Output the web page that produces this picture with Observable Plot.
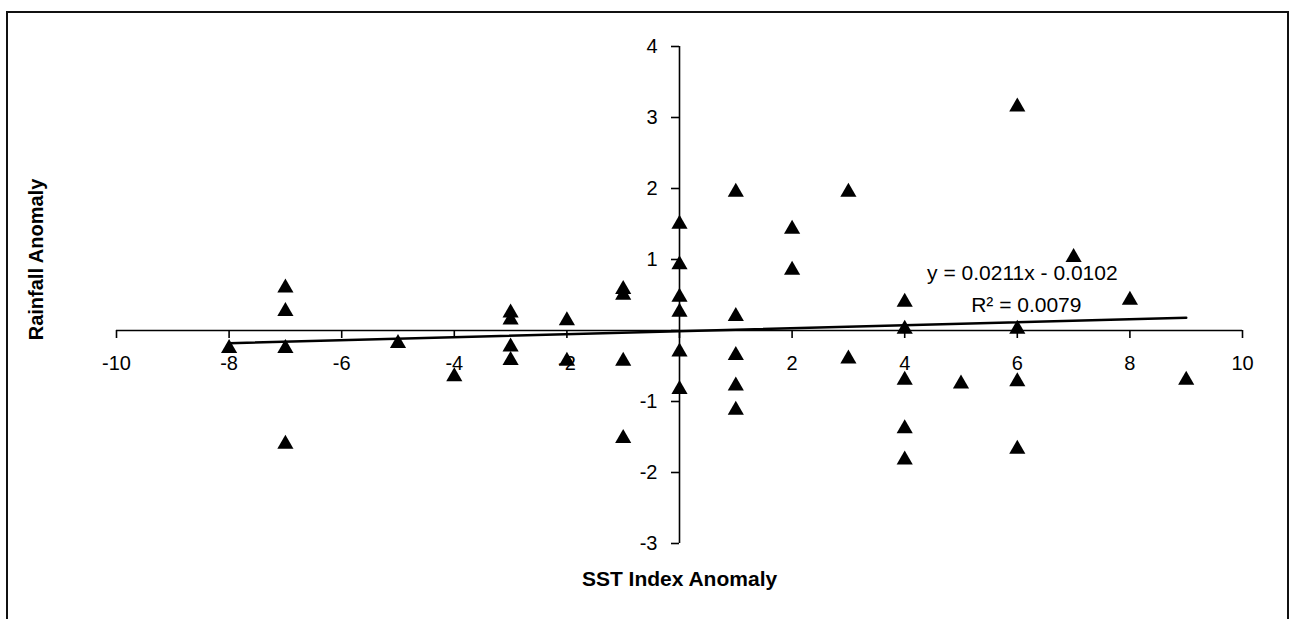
<!DOCTYPE html>
<html>
<head>
<meta charset="utf-8">
<script src="https://cdn.jsdelivr.net/npm/d3@7"></script>
<script src="https://cdn.jsdelivr.net/npm/@observablehq/plot@0.6"></script>
<style>
  html, body { margin: 0; padding: 0; background: #fff; }
  #wrap { position: relative; width: 1299px; height: 619px; overflow: hidden; }
  #border { position: absolute; left: 6px; top: 11px; width: 1283px; height: 700px; border: 2px solid #111; box-sizing: border-box; }
  svg { position: absolute; left: 0; top: 0; }
</style>
</head>
<body>
<div id="wrap"><div id="border"></div></div>
<script>
// SST index anomaly (x) and rainfall anomaly (y) for each season
const sst  = [-8, -7, -7, -7, -7, -5, -4, -3, -3, -3, -3, -2, -2, -1, -1, -1, -1,
              0, 0, 0, 0, 0, 0, 1, 1, 1, 1, 1, 2, 2, 3, 3,
              4, 4, 4, 4, 4, 5, 6, 6, 6, 6, 7, 8, 9];
const rain = [-0.25, 0.6, 0.27, -0.25, -1.6, -0.18, -0.65, 0.25, 0.15, -0.23, -0.42, 0.14, -0.43, 0.58, 0.5, -0.43, -1.52,
              1.5, 0.93, 0.47, 0.26, -0.3, -0.83, 1.95, 0.2, -0.35, -0.78, -1.12, 1.43, 0.85, 1.95, -0.4,
              0.4, 0.02, -0.7, -1.38, -1.82, -0.75, 3.15, 0.02, -0.72, -1.67, 1.03, 0.43, -0.7];

// Axis ticks
const xTicks = [-10, -8, -6, -4, -2, 0, 2, 4, 6, 8, 10];
const yTicks = [-3, -2, -1, 0, 1, 2, 3, 4];

// Linear trend (least squares) as reported on the chart
const slope = 0.0211;
const intercept = -0.0102;
const r2 = 0.0079;
const trendX = [-8, 9];

const points = sst.map((x, i) => ({x, y: rain[i]}));
const trend = trendX.map(x => ({x, y: slope * x + intercept}));
const fmt = v => String(v); // hyphen-minus labels

const font = "'Liberation Sans', Arial, Helvetica, sans-serif";

const chart = Plot.plot({
  width: 1299,
  height: 619,
  marginLeft: 116,
  marginRight: 57,
  marginTop: 46,
  marginBottom: 76,
  style: {fontFamily: font, fontSize: "20px", color: "#000", background: "transparent"},
  x: {domain: [-10, 10], axis: null},
  y: {domain: [-3, 4], axis: null},
  marks: [
    // axes crossing at the origin
    Plot.ruleY([0], {x1: -10, x2: 10, stroke: "#000", strokeWidth: 1.6}),
    Plot.ruleX([0], {y1: -3, y2: 4, stroke: "#000", strokeWidth: 1.6}),
    // tick marks
    Plot.ruleX(xTicks, {x: d => d, y1: 0, y2: 0, insetTop: 0, insetBottom: -8, stroke: "#000", strokeWidth: 1.6}),
    Plot.ruleY(yTicks, {y: d => d, x1: 0, x2: 0, insetLeft: -8, insetRight: 0, stroke: "#000", strokeWidth: 1.6}),
    // tick labels
    Plot.text(xTicks.filter(d => d !== 0), {x: d => d, y: 0, dy: 33, text: fmt, textAnchor: "middle", lineAnchor: "middle", fill: "#000", fontSize: 20}),
    Plot.text(yTicks.filter(d => d !== 0), {x: 0, y: d => d, dx: -22, text: fmt, textAnchor: "end", lineAnchor: "middle", fill: "#000", fontSize: 20}),
    // trend line
    Plot.line(trend, {x: "x", y: "y", stroke: "#000", strokeWidth: 2.6}),
    // observations
    Plot.dot(points, {x: "x", y: "y", symbol: "triangle", r: 6, fill: "#000", stroke: "none"}),
    // trend equation
    Plot.text([`y = ${slope.toFixed(4)}x - ${Math.abs(intercept).toFixed(4)}`], {x: 6.09, y: 0.8, text: d => d, textAnchor: "middle", lineAnchor: "middle", fontSize: 21, fill: "#000"}),
    Plot.text([`R² = ${r2.toFixed(4)}`], {x: 6.16, y: 0.35, text: d => d, textAnchor: "middle", lineAnchor: "middle", fontSize: 21, fill: "#000"}),
    // axis titles
    Plot.text(["SST Index Anomaly"], {x: 0, y: -3, dy: 36, text: d => d, textAnchor: "middle", lineAnchor: "middle", fontSize: 21, fontWeight: "bold", fill: "#000", style: "letter-spacing: 0.5px"}),
    Plot.text(["Rainfall Anomaly"], {y: 1, frameAnchor: "left", dx: -80, rotate: -90, text: d => d, textAnchor: "middle", lineAnchor: "middle", fontSize: 20, fontWeight: "bold", fill: "#000"})
  ]
});

document.getElementById("wrap").appendChild(chart);
</script>
</body>
</html>
